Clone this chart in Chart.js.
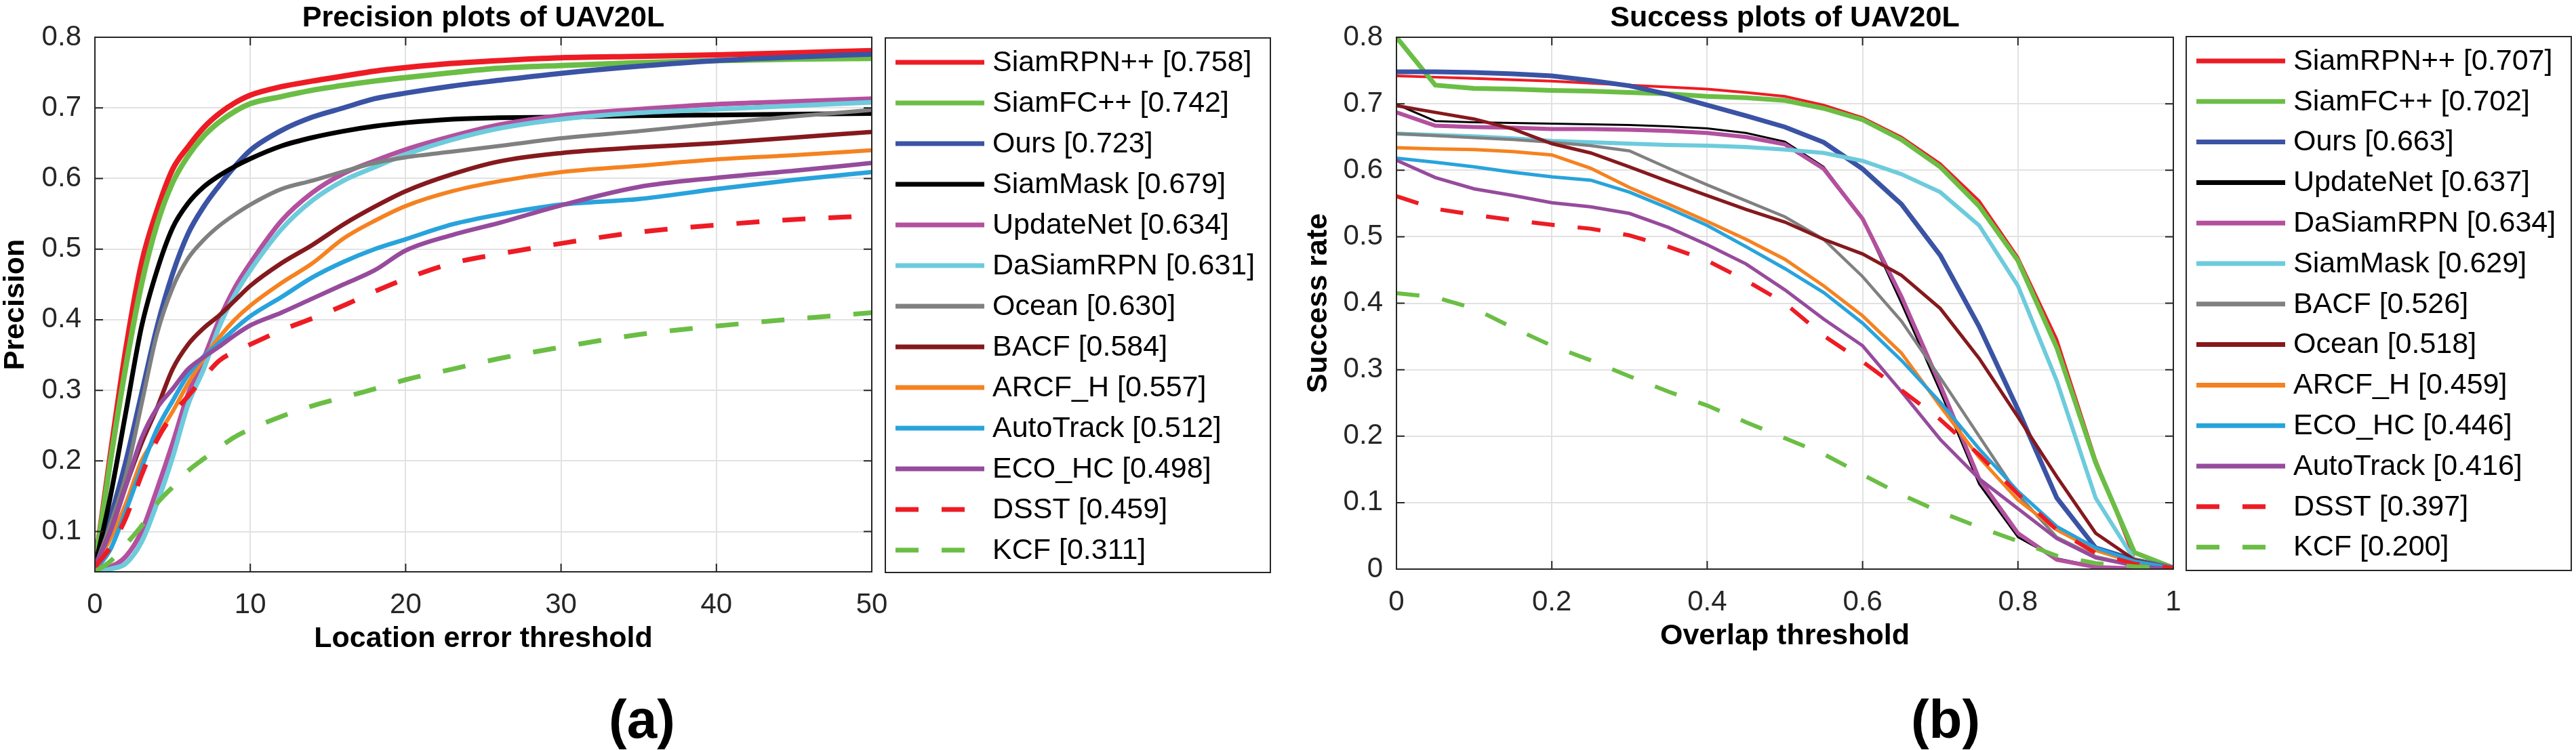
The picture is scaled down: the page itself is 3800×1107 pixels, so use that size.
<!DOCTYPE html>
<html><head><meta charset="utf-8">
<script src="https://cdn.jsdelivr.net/npm/chart.js@4.4.1/dist/chart.umd.min.js"></script>
<style>
html,body{margin:0;padding:0;background:#fff;}
body{width:3800px;height:1107px;position:relative;overflow:hidden;font-family:"Liberation Sans",Arial,Helvetica,sans-serif;}
.wrap{position:absolute;top:0;height:1107px;width:1900px;}
#wa{left:0}#wb{left:1900px}
.lab{position:absolute;top:1062px;transform:translate(-50%,-50%);font-weight:bold;font-size:80px;line-height:1;color:#000;}
</style></head><body>
<div class="wrap" id="wa"><canvas id="ca"></canvas></div>
<div class="wrap" id="wb"><canvas id="cb"></canvas></div>
<div class="lab" style="left:947px">(a)</div>
<div class="lab" style="left:2870px">(b)</div>
<script>
const FONT = '"Liberation Sans", Arial, Helvetica, sans-serif';

// ---------- Precision plot data ----------
const precThresholds = [0,1,2,3,4,5,6,7,8,9,10,12,14,16,18,20,23,26,30,35,40,45,50];
const precNames  = ['SiamRPN++','SiamFC++','Ours','SiamMask','UpdateNet','DaSiamRPN','Ocean','BACF','ARCF_H','AutoTrack','ECO_HC','DSST','KCF'];
const precScores = ['0.758','0.742','0.723','0.679','0.634','0.631','0.630','0.584','0.557','0.512','0.498','0.459','0.311'];
const precSiamRPNpp = [0.05,0.21,0.36,0.48,0.555,0.613,0.645,0.672,0.692,0.707,0.718,0.730,0.738,0.745,0.752,0.757,0.763,0.767,0.771,0.773,0.775,0.778,0.781];
const precSiamFCpp  = [0.05,0.20,0.335,0.45,0.535,0.594,0.632,0.66,0.68,0.695,0.706,0.716,0.725,0.732,0.738,0.743,0.75,0.756,0.760,0.764,0.767,0.769,0.770];
const precOurs      = [0.05,0.12,0.20,0.295,0.39,0.465,0.522,0.56,0.59,0.617,0.64,0.668,0.687,0.700,0.713,0.721,0.731,0.739,0.749,0.759,0.767,0.772,0.776];
const precSiamMask  = [0.05,0.15,0.27,0.39,0.47,0.53,0.565,0.588,0.604,0.617,0.628,0.646,0.658,0.667,0.674,0.679,0.684,0.686,0.687,0.689,0.690,0.691,0.692];
const precUpdateNet = [0.045,0.05,0.065,0.10,0.16,0.225,0.295,0.345,0.40,0.445,0.48,0.54,0.58,0.607,0.625,0.641,0.660,0.676,0.689,0.698,0.705,0.709,0.713];
const precDaSiamRPN = [0.043,0.047,0.055,0.085,0.14,0.205,0.28,0.33,0.39,0.435,0.47,0.528,0.569,0.597,0.616,0.634,0.655,0.671,0.684,0.693,0.698,0.703,0.708];
const precOcean     = [0.05,0.11,0.18,0.28,0.38,0.445,0.487,0.513,0.533,0.549,0.563,0.585,0.597,0.61,0.622,0.630,0.638,0.646,0.657,0.667,0.678,0.688,0.697];
const precBACF      = [0.05,0.10,0.165,0.225,0.275,0.33,0.365,0.388,0.406,0.427,0.448,0.48,0.506,0.535,0.56,0.582,0.606,0.624,0.636,0.644,0.650,0.658,0.666];
const precARCF      = [0.05,0.09,0.14,0.20,0.235,0.27,0.31,0.345,0.375,0.40,0.42,0.452,0.48,0.515,0.54,0.561,0.582,0.596,0.609,0.618,0.627,0.633,0.640];
const precAutoTrack = [0.045,0.075,0.13,0.19,0.245,0.285,0.322,0.348,0.367,0.387,0.405,0.432,0.46,0.482,0.50,0.514,0.535,0.549,0.563,0.571,0.585,0.598,0.609];
const precECOHC     = [0.05,0.10,0.165,0.232,0.275,0.302,0.33,0.347,0.362,0.378,0.392,0.41,0.43,0.45,0.47,0.498,0.52,0.537,0.562,0.588,0.601,0.611,0.622];
const precDSST      = [0.05,0.078,0.12,0.18,0.23,0.265,0.292,0.318,0.342,0.355,0.365,0.385,0.402,0.42,0.44,0.458,0.48,0.493,0.508,0.524,0.534,0.542,0.547];
const precKCF       = [0.043,0.058,0.082,0.108,0.14,0.163,0.186,0.203,0.219,0.234,0.245,0.263,0.278,0.29,0.302,0.315,0.33,0.345,0.361,0.379,0.391,0.401,0.41];
const precXTicks = [0,10,20,30,40,50];
const precXLabels = ['0','10','20','30','40','50'];
const precYTicks = [0.1,0.2,0.3,0.4,0.5,0.6,0.7,0.8];
const precYLabels = ['0.1','0.2','0.3','0.4','0.5','0.6','0.7','0.8'];

// ---------- Success plot data ----------
const succThresholds = [0,0.05,0.1,0.15,0.2,0.25,0.3,0.35,0.4,0.45,0.5,0.55,0.6,0.65,0.7,0.75,0.8,0.85,0.9,0.95,1];
const succNames  = ['SiamRPN++','SiamFC++','Ours','UpdateNet','DaSiamRPN','SiamMask','BACF','Ocean','ARCF_H','ECO_HC','AutoTrack','DSST','KCF'];
const succScores = ['0.707','0.702','0.663','0.637','0.634','0.629','0.526','0.518','0.459','0.446','0.416','0.397','0.200'];
const succSiamRPNpp = [0.742,0.740,0.738,0.736,0.734,0.731,0.728,0.725,0.722,0.717,0.711,0.698,0.679,0.650,0.610,0.554,0.469,0.346,0.165,0.015,0.003];
const succSiamFCpp  = [0.800,0.728,0.723,0.722,0.720,0.719,0.717,0.715,0.711,0.709,0.705,0.693,0.676,0.646,0.605,0.546,0.464,0.333,0.160,0.025,0.002];
const succOurs      = [0.748,0.748,0.747,0.745,0.742,0.735,0.727,0.714,0.698,0.682,0.665,0.642,0.602,0.549,0.472,0.365,0.240,0.107,0.032,0.014,0.002];
const succUpdateNet = [0.699,0.674,0.672,0.671,0.670,0.669,0.668,0.666,0.663,0.656,0.643,0.605,0.527,0.400,0.267,0.128,0.048,0.016,0.004,0.001,0.000];
const succDaSiamRPN = [0.687,0.667,0.665,0.664,0.662,0.662,0.661,0.659,0.656,0.650,0.639,0.602,0.527,0.410,0.277,0.136,0.054,0.014,0.003,0.001,0.000];
const succSiamMask  = [0.655,0.653,0.651,0.648,0.644,0.642,0.640,0.638,0.637,0.635,0.631,0.626,0.614,0.594,0.567,0.517,0.426,0.283,0.107,0.014,0.002];
const succBACF      = [0.655,0.652,0.649,0.646,0.642,0.637,0.629,0.603,0.578,0.554,0.530,0.496,0.440,0.373,0.288,0.200,0.112,0.048,0.019,0.006,0.001];
const succOcean     = [0.697,0.687,0.677,0.662,0.640,0.626,0.605,0.583,0.562,0.541,0.522,0.496,0.474,0.442,0.392,0.317,0.229,0.139,0.054,0.014,0.002];
const succARCF      = [0.634,0.632,0.631,0.628,0.623,0.603,0.574,0.549,0.523,0.496,0.466,0.426,0.381,0.325,0.245,0.168,0.104,0.059,0.028,0.010,0.002];
const succECOHC     = [0.618,0.612,0.605,0.597,0.590,0.585,0.567,0.543,0.517,0.485,0.452,0.416,0.370,0.314,0.251,0.181,0.117,0.064,0.032,0.012,0.002];
const succAutoTrack = [0.615,0.589,0.572,0.562,0.551,0.545,0.535,0.514,0.488,0.459,0.420,0.376,0.336,0.267,0.195,0.136,0.091,0.046,0.017,0.005,0.000];
const succDSST      = [0.561,0.542,0.533,0.525,0.518,0.512,0.502,0.485,0.464,0.434,0.400,0.351,0.312,0.269,0.225,0.172,0.113,0.059,0.024,0.008,0.002];
const succKCF       = [0.415,0.409,0.392,0.363,0.336,0.314,0.290,0.267,0.246,0.221,0.197,0.173,0.142,0.112,0.086,0.063,0.042,0.020,0.009,0.004,0.001];
const succXTicks = [0,0.2,0.4,0.6,0.8,1];
const succXLabels = ['0','0.2','0.4','0.6','0.8','1'];
const succYTicks = [0,0.1,0.2,0.3,0.4,0.5,0.6,0.7,0.8];
const succYLabels = ['0','0.1','0.2','0.3','0.4','0.5','0.6','0.7','0.8'];

// rank colours (same sequence in both plots)
const rankColors = ['#ED1C24','#6BBE45','#3A53A4','#000000','#B3509F','#6DCBDC','#808080','#85191D','#F58220','#28A3DC','#964B9C','#ED1C24','#6BBE45'];
const rankDashed = [false,false,false,false,false,false,false,false,false,false,false,true,true];
const precWidths = [8,8,7.5,7,7,7,6,6.5,6,6.5,6.5,7,7];
const succWidths = [4,7,7,3,6,6,4.5,5,5,5,5,6,6];

function buildDatasets(xs, series, names, scores, widths, smooth) {
  return series.map((vals, i) => ({
    label: names[i] + ' [' + scores[i] + ']',
    data: xs.map((x, k) => ({x: x, y: vals[k]})),
    borderColor: rankColors[i],
    backgroundColor: rankColors[i],
    borderWidth: widths[i],
    borderDash: rankDashed[i] ? [34, 34] : [],
    borderCapStyle: 'butt',
    cubicInterpolationMode: smooth ? 'monotone' : 'default',
    tension: 0,
    pointRadius: 0,
    fill: false,
    order: series.length - i
  }));
}

const boxPlugin = {
  id: 'matlabBox',
  afterDraw(chart, args, o) {
    const {ctx, chartArea: a} = chart;
    const xs = chart.scales.x, ys = chart.scales.y;
    ctx.save();
    ctx.strokeStyle = '#262626';
    ctx.lineWidth = 2;
    ctx.beginPath();
    xs.ticks.forEach(t => {
      const p = xs.getPixelForValue(t.value);
      ctx.moveTo(p, a.bottom); ctx.lineTo(p, a.bottom - 12);
      ctx.moveTo(p, a.top); ctx.lineTo(p, a.top + 12);
    });
    ys.ticks.forEach(t => {
      const p = ys.getPixelForValue(t.value);
      ctx.moveTo(a.left, p); ctx.lineTo(a.left + 12, p);
      ctx.moveTo(a.right, p); ctx.lineTo(a.right - 12, p);
    });
    ctx.stroke();
    ctx.strokeRect(a.left, a.top, a.right - a.left, a.bottom - a.top);

    // boxed legend to the right of the axes
    const L = a.right + o.gap, T = a.top + o.dy, W = o.width, H = a.bottom - a.top + o.dh;
    ctx.fillStyle = '#fff';
    ctx.fillRect(L, T, W, H);
    ctx.strokeRect(L, T, W, H);
    ctx.font = o.fontSize + 'px ' + FONT;
    ctx.textBaseline = 'middle';
    ctx.textAlign = 'left';
    chart.data.datasets.forEach((ds, i) => {
      const cy = T + o.first + i * o.row;
      ctx.save();
      ctx.strokeStyle = ds.borderColor;
      ctx.lineWidth = 7;
      ctx.lineCap = 'butt';
      ctx.setLineDash(ds.borderDash || []);
      ctx.beginPath();
      ctx.moveTo(L + 15, cy); ctx.lineTo(L + 146, cy);
      ctx.stroke();
      ctx.restore();
      ctx.fillStyle = '#000';
      ctx.fillText(ds.label, L + 158, cy + 1);
    });
    ctx.restore();
  }
};

function makeOptions(cfg) {
  return {
    responsive: true,
    maintainAspectRatio: false,
    animation: false,
    layout: {padding: {left: cfg.padLeft, right: cfg.padRight, top: 0, bottom: cfg.padBottom}},
    plugins: {
      legend: {display: false},
      tooltip: {enabled: false},
      title: {
        display: true, text: cfg.title, fullSize: false, color: '#000',
        font: {family: FONT, size: 43, weight: 'bold', lineHeight: 1},
        padding: {top: 6, bottom: 6}
      },
      matlabBox: cfg.legend
    },
    scales: {
      x: {
        type: 'linear', min: cfg.xMin, max: cfg.xMax,
        afterFit: s => { s.height = cfg.xAxisH; },
        afterBuildTicks: s => { s.ticks = cfg.xTicks.map(v => ({value: v})); },
        ticks: {
          autoSkip: false, maxRotation: 0, padding: 24, color: '#262626',
          font: {family: FONT, size: 42},
          callback: (v, i) => cfg.xLabels[i]
        },
        grid: {color: '#e2e2e2', lineWidth: 2, drawTicks: false},
        border: {display: false},
        title: {display: true, text: cfg.xTitle, color: '#000', padding: 0,
          font: {family: FONT, size: 43, weight: 'bold', lineHeight: 1}}
      },
      y: {
        type: 'linear', min: cfg.yMin, max: cfg.yMax,
        afterFit: s => { s.width = cfg.yAxisW; },
        afterBuildTicks: s => { s.ticks = cfg.yTicks.map(v => ({value: v})); },
        ticks: {
          autoSkip: false, padding: 20, color: '#262626',
          font: {family: FONT, size: 42},
          callback: (v, i) => cfg.yLabels[i]
        },
        grid: {color: '#e2e2e2', lineWidth: 2, drawTicks: false},
        border: {display: false},
        title: {display: true, text: cfg.yTitle, color: '#000', padding: 0,
          font: {family: FONT, size: 43, weight: 'bold', lineHeight: 1}}
      }
    }
  };
}

new Chart(document.getElementById('ca'), {
  type: 'line',
  data: {datasets: buildDatasets(precThresholds,
    [precSiamRPNpp, precSiamFCpp, precOurs, precSiamMask, precUpdateNet, precDaSiamRPN, precOcean, precBACF, precARCF, precAutoTrack, precECOHC, precDSST, precKCF],
    precNames, precScores, precWidths, true)},
  options: makeOptions({
    title: 'Precision plots of UAV20L', xTitle: 'Location error threshold', yTitle: 'Precision',
    xMin: 0, xMax: 50, yMin: 0.043, yMax: 0.8,
    xTicks: precXTicks, xLabels: precXLabels, yTicks: precYTicks, yLabels: precYLabels,
    padLeft: 2, padRight: 614, padBottom: 142.5, xAxisH: 120.5, yAxisW: 138,
    legend: {gap: 20, width: 568, dy: 1, dh: 0, first: 36, row: 60, fontSize: 43}
  }),
  plugins: [boxPlugin]
});

new Chart(document.getElementById('cb'), {
  type: 'line',
  data: {datasets: buildDatasets(succThresholds,
    [succSiamRPNpp, succSiamFCpp, succOurs, succUpdateNet, succDaSiamRPN, succSiamMask, succBACF, succOcean, succARCF, succECOHC, succAutoTrack, succDSST, succKCF],
    succNames, succScores, succWidths, false)},
  options: makeOptions({
    title: 'Success plots of UAV20L', xTitle: 'Overlap threshold', yTitle: 'Success rate',
    xMin: 0, xMax: 1, yMin: 0, yMax: 0.8,
    xTicks: succXTicks, xLabels: succXLabels, yTicks: succYTicks, yLabels: succYLabels,
    padLeft: 24, padRight: 594, padBottom: 146.5, xAxisH: 120.5, yAxisW: 136,
    legend: {gap: 19, width: 568, dy: -1, dh: 3, first: 36, row: 59.8, fontSize: 43}
  }),
  plugins: [boxPlugin]
});
</script>
</body></html>
